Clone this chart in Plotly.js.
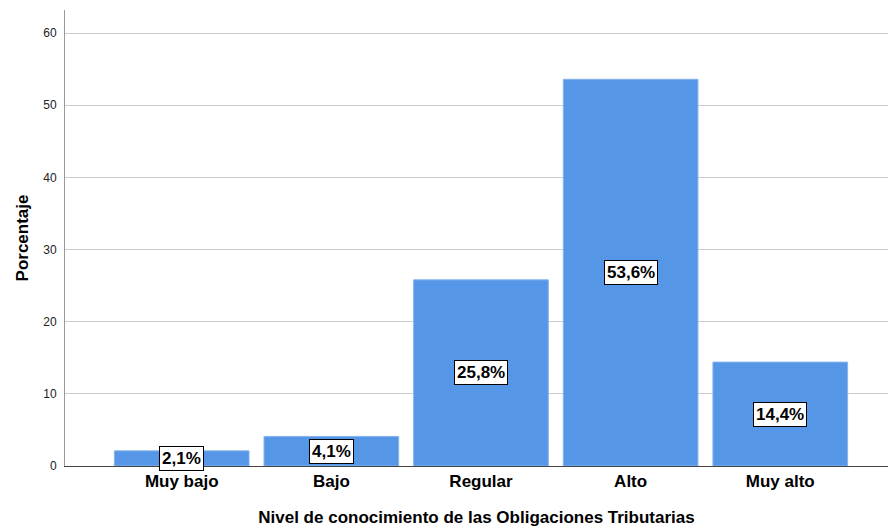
<!DOCTYPE html>
<html>
<head>
<meta charset="utf-8">
<script src="https://cdn.plot.ly/plotly-3.0.1.min.js"></script>
<style>
  html, body { margin: 0; padding: 0; background: #ffffff; }
  #chart { width: 888px; height: 528px; }
</style>
</head>
<body>
<div id="chart"></div>
<script>
// Nivel de conocimiento de las Obligaciones Tributarias (porcentaje)
const categories = ["Muy bajo", "Bajo", "Regular", "Alto", "Muy alto"];
const percentages = [2.1, 4.1, 25.8, 53.6, 14.4];
const yTicks = [0, 10, 20, 30, 40, 50, 60];

const FONT = "Liberation Sans, Arial, sans-serif";

const bars = {
  type: "bar",
  x: categories,
  y: percentages,
  width: 0.9,
  marker: { color: "#5596e6", line: { color: "#86b4ee", width: 1 } },
  hoverinfo: "skip"
};

// value labels, boxed, at mid-height of each bar
const labels = categories.map((c, i) => ({
  x: c,
  y: percentages[i] / 2,
  xref: "x",
  yref: "y",
  text: percentages[i].toFixed(1).replace(".", ",") + "%",
  showarrow: false,
  font: { family: FONT, size: 17, color: "#000000", weight: "bold" },
  bgcolor: "#ffffff",
  bordercolor: "#000000",
  borderwidth: 1,
  borderpad: 2
}));

const layout = {
  width: 888,
  height: 528,
  margin: { l: 65, r: 0, t: 10, b: 62 },
  paper_bgcolor: "#ffffff",
  plot_bgcolor: "#ffffff",
  showlegend: false,
  font: { family: FONT, color: "#000000" },
  xaxis: {
    type: "category",
    range: [-0.78, 4.72],
    showgrid: false,
    showline: true,
    linecolor: "#444444",
    linewidth: 1,
    ticks: "",
    tickfont: { family: FONT, size: 17, color: "#000000", weight: "bold" },
    title: {
      text: "Nivel de conocimiento de las Obligaciones Tributarias",
      font: { family: FONT, size: 17, color: "#000000", weight: "bold" },
      standoff: 20
    },
    fixedrange: true
  },
  yaxis: {
    range: [0, 63.2],
    tickvals: yTicks,
    ticktext: yTicks.map(String),
    showgrid: true,
    gridcolor: "#cccccc",
    gridwidth: 1,
    zeroline: false,
    showline: true,
    linecolor: "#999999",
    linewidth: 1,
    ticks: "",
    ticklabelstandoff: 5,
    tickfont: { family: FONT, size: 12, color: "#222222" },
    title: {
      text: "Porcentaje",
      font: { family: FONT, size: 17, color: "#000000", weight: "bold" },
      standoff: 10
    },
    fixedrange: true
  },
  annotations: labels
};

Plotly.newPlot("chart", [bars], layout, { displayModeBar: false, staticPlot: true });
</script>
</body>
</html>
